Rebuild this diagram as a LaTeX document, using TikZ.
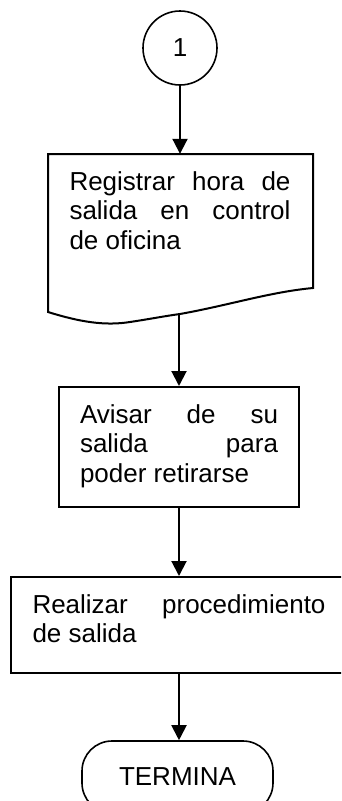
\documentclass[tikz,border=0pt]{standalone}
\usepackage{fontspec}
\setmainfont{Liberation Sans}
\usetikzlibrary{arrows.meta}
\newcommand{\jtext}[3]{\parbox[t][#2][t]{#1}{\hyphenpenalty=10000\tolerance=10000\fontsize{26pt}{29.9pt}\selectfont\rule{0pt}{36pt}#3}}
\begin{document}
\begin{tikzpicture}[x=1pt,y=-1pt,
  every node/.style={font=\fontsize{26pt}{29.9pt}\selectfont},
  procbox/.style={draw, line width=2pt, inner ysep=0pt},
  connector/.style={circle, draw, line width=1.6pt, minimum size=74pt, inner sep=0pt},
  termbox/.style={draw, line width=1.6pt, rounded corners=30pt, minimum width=191pt, minimum height=72pt},
  flow/.style={line width=2pt, -{Triangle[length=15pt,width=15pt]}}]
\useasboundingbox (0,0) rectangle (341,801);
\clip (0,0) rectangle (341,801);

\node[connector] (c1) at (180,48) {1};

\node[inner xsep=22pt, inner ysep=0pt] (b1) at (180,234)
  {\jtext{221pt}{160pt}{Registrar hora de\linebreak salida en control\linebreak de oficina}};
\draw[line width=2pt, line join=miter]
  (313,288) -- (313,154) -- (48,154) -- (48,312)
  .. controls (80,322) and (105,326) .. (130,322)
  .. controls (150,319) and (165,316) .. (180,314)
  .. controls (230,305) and (270,292) .. (313,288) -- cycle;

\node[procbox, inner xsep=21pt] (b2) at (179,447)
  {\jtext{198pt}{120pt}{Avisar de su\linebreak salida para\linebreak poder retirarse}};

\node[procbox, inner xsep=22pt] (b3) at (179,625)
  {\jtext{293pt}{96pt}{Realizar procedimiento\linebreak de salida}};

\node[termbox] (t) at (177.5,777) {TERMINA};

\draw[flow] (c1) -- (c1 |- b1.north);
\draw[flow] (b1.south -| b2.north) -- (b2.north);
\draw[flow] (b2.south) -- (b2.south |- b3.north);
\draw[flow] (b3.south) -- (b3.south |- t.north);
\end{tikzpicture}
\end{document}
